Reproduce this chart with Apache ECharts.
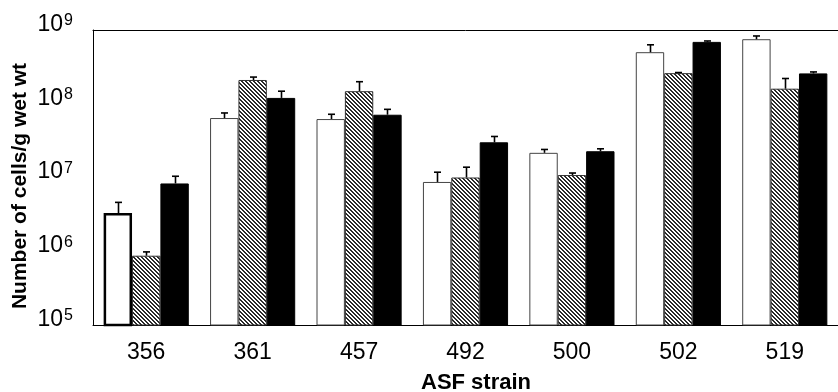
<!DOCTYPE html>
<html>
<head>
<meta charset="utf-8">
<script src="https://cdn.jsdelivr.net/npm/echarts@6/dist/echarts.min.js"></script>
<style>
  html, body { margin: 0; padding: 0; background: #fff; }
  #chart { width: 838px; height: 392px; }
</style>
</head>
<body>
<div id="chart"></div>
<script>
// ASF strains
const strains = ['356', '361', '457', '492', '500', '502', '519'];

// bar heights (cells/g wet wt)
const openVals   = [3.3e6, 6.4e7, 6.2e7, 8.7e6, 2.16e7, 5.0e8, 7.5e8];
const hatchVals  = [8.7e5, 2.1e8, 1.48e8, 1.0e7, 1.08e7, 2.6e8, 1.6e8];
const blackVals  = [8.3e6, 1.2e8, 7.1e7, 3.0e7, 2.27e7, 6.9e8, 2.58e8];

// tops of the error bars
const openErr  = [4.6e6, 7.5e7, 7.2e7, 1.18e7, 2.4e7, 6.3e8, 8.3e8];
const hatchErr = [9.8e5, 2.3e8, 1.99e8, 1.38e7, 1.15e7, 2.65e8, 2.2e8];
const blackErr = [1.04e7, 1.48e8, 8.4e7, 3.6e7, 2.45e7, 7.1e8, 2.7e8];

const fontName = 'Liberation Sans';

// diagonal hatch for the middle bars
const hatch = document.createElement('canvas');
hatch.width = 4;
hatch.height = 4;
const hc = hatch.getContext('2d');
hc.fillStyle = '#fff';
hc.fillRect(0, 0, 4, 4);
hc.fillStyle = '#2a2a2a';
for (let i = 0; i < 4; i++) {
    hc.fillRect(i, i, 1, 1);
    hc.fillRect((i + 1) % 4, i, 1, 1);
}

const barCount = 3;
const catGap = 0.2;

function errorSeries(idx, vals, errs) {
    return {
        type: 'custom',
        z: 5,
        silent: true,
        renderItem: function(params, api) {
            const band = api.size([1, 0])[0];
            const bw = band * (1 - catGap) / barCount;
            const off = (idx - 1) * bw;
            const base = api.coord([api.value(0), api.value(1)]);
            const top = api.coord([api.value(0), api.value(2)]);
            const x = Math.round(base[0] + off) + 0.5;
            return {
                type: 'group',
                children: [{
                    type: 'line',
                    shape: { x1: x, y1: base[1], x2: x, y2: top[1] },
                    style: { stroke: '#000', lineWidth: 1.6 }
                }, {
                    type: 'line',
                    shape: { x1: x - 3.5, y1: top[1], x2: x + 3.5, y2: top[1] },
                    style: { stroke: '#000', lineWidth: 1.6 }
                }]
            };
        },
        data: vals.map((v, i) => [i, v, errs[i]])
    };
}

const openData = openVals.map((v, i) => i === 0
    ? { value: v, itemStyle: { borderWidth: 2.5, borderColor: '#000' } }
    : v);

const chart = echarts.init(document.getElementById('chart'));

chart.setOption({
    animation: false,
    backgroundColor: '#fff',
    grid: {
        left: 93,
        top: 30,
        width: 749,
        bottom: 67
    },
    graphic: [{
        type: 'text',
        x: 20,
        y: 186,
        rotation: Math.PI / 2,
        style: {
            text: 'Number of cells/g wet wt',
            fill: '#000',
            font: 'bold 21px "Liberation Sans"',
            align: 'center',
            verticalAlign: 'middle'
        }
    }, {
        type: 'text',
        x: 476,
        y: 383,
        style: {
            text: 'ASF strain',
            fill: '#000',
            font: 'bold 22px "Liberation Sans"',
            align: 'center',
            verticalAlign: 'middle'
        }
    }],
    xAxis: [{
        type: 'category',
        data: strains,
        axisLine: { lineStyle: { color: '#000', width: 1 } },
        axisTick: { inside: true, length: 8, lineStyle: { color: '#000' } },
        axisLabel: {
            color: '#000',
            fontFamily: fontName,
            fontSize: 23,
            margin: 16
        }
    }, {
        type: 'category',
        data: strains,
        position: 'top',
        axisLine: { lineStyle: { color: '#000', width: 1 } },
        axisTick: { inside: true, length: 7, lineStyle: { color: '#000' } },
        axisLabel: { show: false }
    }],
    yAxis: {
        type: 'log',
        logBase: 10,
        min: 1e5,
        max: 1e9,
        splitLine: { show: false },
        minorTick: { show: false },
        axisLine: { show: true, lineStyle: { color: '#000', width: 1 } },
        axisTick: { inside: true, length: 7, lineStyle: { color: '#000' } },
        axisLabel: {
            margin: 20,
            formatter: function(v) {
                const e = Math.round(Math.log10(v));
                return '{b|10}{s|' + e + '}';
            },
            rich: {
                b: { color: '#000', fontFamily: fontName, fontSize: 23, lineHeight: 34, verticalAlign: 'top' },
                s: { color: '#000', fontFamily: fontName, fontSize: 16, lineHeight: 34, verticalAlign: 'top', padding: [0, 0, 0, 1] }
            }
        }
    },
    series: [{
        type: 'bar',
        data: openData,
        barGap: '0%',
        barCategoryGap: '20%',
        itemStyle: { color: '#fff', borderColor: '#444', borderWidth: 1 }
    }, {
        type: 'bar',
        data: hatchVals,
        itemStyle: {
            color: { image: hatch, repetition: 'repeat' },
            borderColor: '#333',
            borderWidth: 1
        }
    }, {
        type: 'bar',
        data: blackVals,
        itemStyle: { color: '#000', borderColor: '#000', borderWidth: 1 }
    },
    errorSeries(0, openVals, openErr),
    errorSeries(1, hatchVals, hatchErr),
    errorSeries(2, blackVals, blackErr)
    ]
});
</script>
</body>
</html>
